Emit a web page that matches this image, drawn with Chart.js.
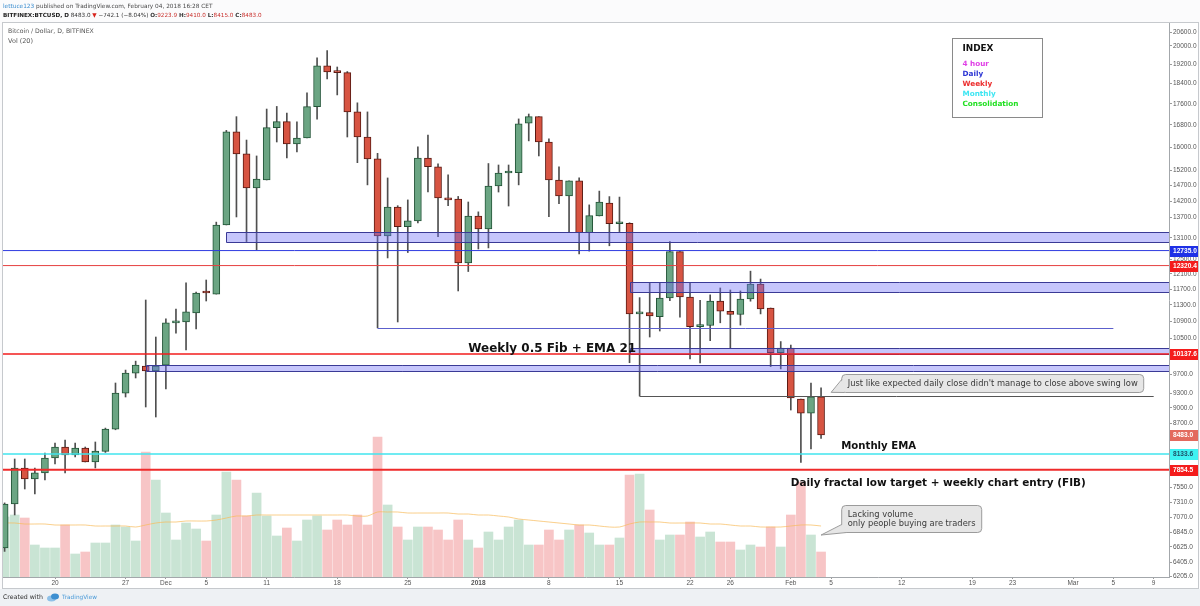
<!DOCTYPE html>
<html>
<head>
<meta charset="utf-8">
<script src="https://cdn.jsdelivr.net/npm/chart.js@4.4.1/dist/chart.umd.min.js"></script>
<style>
  html, body { margin: 0; padding: 0; background: #fff; }
  #wrap { width: 1200px; height: 606px; position: relative; }
  canvas { display: block; }
</style>
</head>
<body>
<div id="wrap"><canvas id="chart" width="1200" height="606" style="width:1200px;height:606px"></canvas></div>
<script>
// BTCUSD daily (Bitfinex)
const dates = [
  '2017-11-15','2017-11-16','2017-11-17','2017-11-18','2017-11-19','2017-11-20','2017-11-21','2017-11-22',
  '2017-11-23','2017-11-24','2017-11-25','2017-11-26','2017-11-27','2017-11-28','2017-11-29','2017-11-30',
  '2017-12-01','2017-12-02','2017-12-03','2017-12-04','2017-12-05','2017-12-06','2017-12-07','2017-12-08',
  '2017-12-09','2017-12-10','2017-12-11','2017-12-12','2017-12-13','2017-12-14','2017-12-15','2017-12-16',
  '2017-12-17','2017-12-18','2017-12-19','2017-12-20','2017-12-21','2017-12-22','2017-12-23','2017-12-24',
  '2017-12-25','2017-12-26','2017-12-27','2017-12-28','2017-12-29','2017-12-30','2017-12-31',
  '2018-01-01','2018-01-02','2018-01-03','2018-01-04','2018-01-05','2018-01-06','2018-01-07','2018-01-08',
  '2018-01-09','2018-01-10','2018-01-11','2018-01-12','2018-01-13','2018-01-14','2018-01-15','2018-01-16',
  '2018-01-17','2018-01-18','2018-01-19','2018-01-20','2018-01-21','2018-01-22','2018-01-23','2018-01-24',
  '2018-01-25','2018-01-26','2018-01-27','2018-01-28','2018-01-29','2018-01-30','2018-01-31',
  '2018-02-01','2018-02-02','2018-02-03','2018-02-04'
];
const openP = [
  6610, 7283, 7885, 7696, 7800, 8061, 8256, 8114, 8240, 7990, 8180, 8590, 9300, 9720, 9870, 9765,
  9893, 10858, 10880, 11100, 11620, 11570, 13475, 16550, 15760, 14620, 14880, 16700, 16925, 16110, 16325, 17490,
  19135, 18885, 18855, 17290, 16360, 15590, 13150, 14020, 13425, 13595, 15620, 15320, 14300, 14270, 12390,
  13745, 13355, 14685, 15110, 15120, 16870, 17110, 16180, 14880, 14370, 14850, 13250, 13745, 14145, 13510, 13520,
  11075, 11105, 11010, 11470, 12705, 11495, 10770, 10795, 11390, 11140, 11060, 11445, 11830, 11220, 10170,
  10273, 9180, 8900, 9223.9
];
const highP = [
  7300, 8043, 8043, 7885, 8150, 8330, 8387, 8330, 8258, 8350, 8610, 9510, 9785, 9980, 11420, 10525,
  10956, 11196, 11858, 11620, 11935, 13560, 16600, 17110, 16250, 15690, 17400, 17500, 17250, 16920, 18030, 19475,
  19790, 19090, 18900, 17640, 17290, 15780, 14947, 14060, 14240, 16010, 16430, 15420, 15050, 14350, 14175,
  13870, 15430, 15380, 15380, 17025, 17210, 17110, 16290, 15315, 14850, 14950, 14085, 14520, 14345, 14330, 13540,
  11480, 11870, 11870, 12990, 12705, 11870, 11410, 11550, 11727, 11675, 11650, 12170, 11960, 11220, 10420,
  10340, 9180, 9510, 9410
];
const lowP = [
  6560, 7109, 7528, 7447, 7679, 7955, 7800, 8079, 7990, 7885, 8160, 8578, 9221, 9616, 9020, 8823,
  9385, 10617, 10228, 10712, 11395, 11570, 13475, 13715, 12990, 12757, 14880, 16180, 15620, 15830, 16325, 17020,
  18595, 17950, 16360, 15460, 14720, 10740, 12530, 10880, 12680, 13535, 14490, 13130, 14060, 11650, 12160,
  12780, 12810, 14490, 14050, 14720, 16220, 15690, 13725, 14120, 13280, 12640, 12720, 13745, 12870, 13280, 9945,
  9240, 10525, 10665, 11405, 10998, 10027, 9940, 10440, 10860, 10280, 10805, 11390, 11075, 9860, 9810,
  8960, 7980, 8223, 8415
];
const closeP = [
  7283, 7885, 7696, 7800, 8061, 8256, 8114, 8240, 7990, 8186, 8590, 9300, 9720, 9893, 9765, 9870,
  10858, 10880, 11123, 11597, 11597, 13475, 16550, 15760, 14620, 14913, 16700, 16925, 16110, 16325, 17490, 19135,
  18885, 18855, 17290, 16360, 15590, 13150, 14020, 13425, 13595, 15620, 15320, 14300, 14240, 12390, 13745,
  13355, 14685, 15110, 15120, 16840, 17110, 16180, 14880, 14370, 14850, 13250, 13755, 14175, 13510, 13520, 11075,
  11105, 11025, 11470, 12705, 11495, 10770, 10785, 11390, 11140, 11060, 11445, 11830, 11200, 10170, 10273,
  9200, 8900, 9225, 8483
];
// volume, thousand BTC (approx.)
const volume = [
  60, 62, 59, 32, 29, 29, 52, 23, 25, 34, 34, 52, 50, 36, 125, 97,
  64, 37, 54, 48, 36, 62, 105, 97, 61, 84, 61, 41, 49, 36, 57, 61,
  47, 57, 52, 62, 52, 140, 72, 50, 37, 50, 50, 47, 37, 57, 37,
  29, 45, 37, 50, 57, 32, 32, 47, 37, 47, 52, 44, 32, 32, 39, 102,
  103, 67, 37, 42, 42, 55, 40, 45, 35, 35, 27, 32, 30, 50, 30,
  62, 95, 42, 25
];
// Vol (20) moving average
const volumeMA = [
  54, 54, 53, 53, 53, 52, 52, 52, 52, 51, 51, 51, 51, 50, 52, 54,
  55, 55, 56, 56, 56, 57, 59, 61, 61, 62, 62, 62, 62, 62, 62, 62,
  62, 62, 62, 61, 61, 65, 65, 65, 64, 64, 64, 64, 64, 63, 63,
  62, 62, 61, 60, 58, 57, 56, 55, 54, 53, 52, 52, 51, 50, 50, 53,
  55, 55, 55, 54, 54, 54, 54, 53, 53, 52, 51, 51, 50, 50, 50,
  51, 52, 52, 51
];

const tickDates = ['2017-11-20','2017-11-27','2017-12-01','2017-12-05','2017-12-11','2017-12-18','2017-12-25',
  '2018-01-01','2018-01-08','2018-01-15','2018-01-22','2018-01-26','2018-02-01','2018-02-05','2018-02-12',
  '2018-02-19','2018-02-23','2018-03-01','2018-03-05','2018-03-09'];
const tickLabels = ['20','27','Dec','5','11','18','25','2018','8','15','22','26','Feb','5','12','19','23','Mar','5','9'];
const priceTicks = [20600, 20000, 19200, 18400, 17600, 16800, 16000, 15200, 14700, 14200, 13700, 13100, 12500,
  12100, 11700, 11300, 10900, 10500, 10100, 9700, 9300, 9000, 8700, 8400, 8100, 7800, 7550, 7310, 7070,
  6845, 6625, 6405, 6205];

// drawings
const levelPrices = [12735.0, 12320.4, 10137.6, 8133.6, 7854.5];
const lastPrice = 8483.0;
const zoneFrom = ['2017-12-07', '2018-01-16', '2018-01-16', '2017-11-29'];
const zoneHigh = [13268, 11883, 10274, 9885];
const zoneLow = [12978, 11623, 10149, 9765];
const rayPrice = [10740, 9240];
const rayFrom = ['2017-12-22', '2018-01-17'];
const rayTo = ['2018-03-05', '2018-03-09'];
const noteText = ['Weekly 0.5 Fib + EMA 21', 'Monthly EMA', 'Daily fractal low target + weekly chart entry (FIB)'];
const noteAt = [['2017-12-31', 10250], ['2018-02-06', 8276], ['2018-02-01', 7628]];
const calloutText = [["Just like expected daily close didn't manage to close above swing low"],
  ['Lacking volume', 'only people buying are traders']];
const calloutAt = [['2018-02-06', 9701], ['2018-02-06', 7266]];
const calloutTip = [['2018-02-05', 9316], ['2018-02-04', 6801]];
const indexItems = ['4 hour', 'Daily', 'Weekly', 'Monthly', 'Consolidation'];
const indexAt = ['2018-02-17', 20351];

// ---- styles ----
const UP = '#6ba583', DOWN = '#d75442', UP_B = '#225437', DOWN_B = '#5b1a13', WICK = '#4f4f4f';
const VOL_UP = '#c9e4d4', VOL_DOWN = '#f7c5c6';
const levelColors = ['#2e3be0', '#e64040', '#f21c1c', '#40e4ee', '#ef2a2a'];
const levelWidths = [1, 1, 1.5, 1.5, 2];
const labelBg = ['#1f30e6', '#f41c1c', '#f41c1c', '#3ff2f2', '#f41c1c'];
const labelFg = ['#fff', '#fff', '#fff', '#1d4f66', '#fff'];
const noteWidth = [168, 75, 295];
const indexColors = ['#e040e6', '#2c36d4', '#ec2d2d', '#3ee6f2', '#22e022'];
const FAM = '"DejaVu Sans", Verdana, sans-serif';
const AX = '"Liberation Sans", Arial, sans-serif';

const base = Date.UTC(2017, 10, 20);
const dayOf = s => (Date.parse(s + 'T00:00:00Z') - base) / 864e5;
const isUp = i => closeP[i] >= openP[i];

function fitFont(ctx, text, weight, family, width) {
  ctx.font = weight + ' 20px ' + family;
  const size = 20 * width / ctx.measureText(text).width;
  return weight + ' ' + size.toFixed(2) + 'px ' + family;
}

function drawRuns(ctx, runs, x, y, family, width) {
  let w = 0;
  runs.forEach(r => { ctx.font = (r.b ? 'bold ' : '') + '20px ' + family; w += ctx.measureText(r.t).width; });
  const size = 20 * width / w;
  runs.forEach(r => {
    ctx.font = (r.b ? 'bold ' : '') + size.toFixed(2) + 'px ' + family;
    ctx.fillStyle = r.c;
    ctx.fillText(r.t, x, y);
    x += ctx.measureText(r.t).width;
  });
}

// page chrome: background, header, panel frame
const chrome = {
  id: 'chrome',
  beforeDraw(chart) {
    const ctx = chart.ctx;
    ctx.save();
    ctx.fillStyle = '#fbfbfc';
    ctx.fillRect(0, 0, 1200, 606);
    ctx.fillStyle = '#eef1f4';
    ctx.fillRect(0, 589, 1200, 17);
    ctx.fillStyle = '#ffffff';
    ctx.fillRect(2, 22, 1196, 567);
    ctx.strokeStyle = '#c6c9cd';
    ctx.lineWidth = 1;
    ctx.strokeRect(2.5, 22.5, 1196, 566);
    ctx.textBaseline = 'middle';
    drawRuns(ctx, [
      {t: 'lettuce123', c: '#3d8fd0'},
      {t: ' published on TradingView.com, February 04, 2018 16:28 CET', c: '#4a4a4a'}
    ], 3, 6, FAM, 210);
    drawRuns(ctx, [
      {t: 'BITFINEX:BTCUSD, D', c: '#222', b: true}, {t: ' 8483.0 ', c: '#333'}, {t: '\u25BC', c: '#d8231c'},
      {t: ' \u2212742.1 (\u22128.04%) ', c: '#333'}, {t: 'O:', c: '#333', b: true}, {t: '9223.9', c: '#c9302c'},
      {t: ' H:', c: '#333', b: true}, {t: '9410.0', c: '#c9302c'}, {t: ' L:', c: '#333', b: true},
      {t: '8415.0', c: '#c9302c'}, {t: ' C:', c: '#333', b: true}, {t: '8483.0', c: '#c9302c'}
    ], 3, 15.5, FAM, 259);
    drawRuns(ctx, [{t: 'Bitcoin / Dollar, D, BITFINEX', c: '#555'}], 8, 31, FAM, 86);
    drawRuns(ctx, [{t: 'Vol (20)', c: '#555'}], 8, 41, FAM, 25);
    ctx.restore();
  }
};

function roundBox(ctx, x1, y1, x2, y2, r) {
  ctx.beginPath();
  ctx.moveTo(x1 + r, y1);
  ctx.lineTo(x2 - r, y1); ctx.arcTo(x2, y1, x2, y1 + r, r);
  ctx.lineTo(x2, y2 - r); ctx.arcTo(x2, y2, x2 - r, y2, r);
  ctx.lineTo(x1 + r, y2); ctx.arcTo(x1, y2, x1, y2 - r, r);
  ctx.lineTo(x1, y1 + r); ctx.arcTo(x1, y1, x1 + r, y1, r);
  ctx.closePath();
}

// user drawings: zones, levels, rays, notes, callouts, index box
const drawings = {
  id: 'drawings',
  afterDatasetsDraw(chart) {
    const {ctx, chartArea: a, scales: {x, y}} = chart;
    const X = s => x.getPixelForValue(dayOf(s));
    const Y = v => y.getPixelForValue(v);
    ctx.save();
    ctx.beginPath(); ctx.rect(a.left, a.top, a.right - a.left, a.bottom - a.top); ctx.clip();

    zoneLow.forEach((lo, i) => {
      const x1 = Math.round(X(zoneFrom[i])) + 0.5, x2 = a.right;
      const y1 = Math.round(Y(zoneHigh[i])) + 0.5, y2 = Math.round(Y(lo)) + 0.5;
      ctx.fillStyle = 'rgba(112,112,248,0.4)';
      ctx.fillRect(x1, y1, x2 - x1, y2 - y1);
      ctx.strokeStyle = '#3a3a96'; ctx.lineWidth = 1;
      ctx.beginPath(); ctx.moveTo(x2, y1); ctx.lineTo(x1, y1); ctx.lineTo(x1, y2); ctx.lineTo(x2, y2); ctx.stroke();
    });

    rayPrice.forEach((p, i) => {
      const yy = Math.round(Y(p)) + 0.5;
      ctx.strokeStyle = i === 0 ? '#5c60cc' : '#555';
      ctx.lineWidth = 1;
      ctx.beginPath(); ctx.moveTo(X(rayFrom[i]), yy); ctx.lineTo(X(rayTo[i]), yy); ctx.stroke();
    });

    levelPrices.forEach((p, i) => {
      const yy = Y(p);
      ctx.strokeStyle = levelColors[i]; ctx.lineWidth = levelWidths[i];
      ctx.beginPath(); ctx.moveTo(a.left, yy); ctx.lineTo(a.right, yy); ctx.stroke();
    });

    ctx.textBaseline = 'middle';
    ctx.fillStyle = '#111';
    noteText.forEach((t, i) => {
      ctx.font = fitFont(ctx, t, 'bold', FAM, noteWidth[i]);
      ctx.fillText(t, X(noteAt[i][0]), Y(noteAt[i][1]));
    });

    // callouts
    const calloutWidths = [290, 128];
    const calloutH = [18, 27];
    calloutText.forEach((lines, i) => {
      const longest = lines.reduce((m, s) => s.length > m.length ? s : m, '');
      const font = fitFont(ctx, longest, 'normal', FAM, calloutWidths[i]);
      const bx = X(calloutAt[i][0]) + 0.5, by = Math.round(Y(calloutAt[i][1])) + 0.5;
      const bw = calloutWidths[i] + 12, bh = calloutH[i];
      const tx = X(calloutTip[i][0]), ty = Y(calloutTip[i][1]);
      ctx.fillStyle = '#e6e6e6'; ctx.strokeStyle = '#9b9b9b'; ctx.lineWidth = 1;
      roundBox(ctx, bx, by, bx + bw, by + bh, 4);
      ctx.fill(); ctx.stroke();
      // tail
      ctx.beginPath();
      ctx.moveTo(bx + 1, by + bh - (i === 0 ? 13 : 8));
      ctx.lineTo(tx, ty);
      ctx.lineTo(bx + (i === 0 ? 3 : 5), by + bh);
      ctx.closePath();
      ctx.fill();
      ctx.beginPath();
      ctx.moveTo(bx, by + bh - (i === 0 ? 13 : 8));
      ctx.lineTo(tx, ty);
      ctx.lineTo(bx + (i === 0 ? 3 : 5), by + bh);
      ctx.stroke();
      ctx.fillStyle = '#3a3a3a'; ctx.font = font;
      const lh = 9;
      lines.forEach((s, k) => {
        ctx.fillText(s, bx + 6, by + bh / 2 + (k - (lines.length - 1) / 2) * lh);
      });
    });

    // index box
    const ix = Math.round(X(indexAt[0])) + 0.5, iy = Math.round(Y(indexAt[1])) + 0.5;
    ctx.fillStyle = '#fff'; ctx.strokeStyle = '#8a8a8a'; ctx.lineWidth = 1;
    ctx.fillRect(ix, iy, 90, 79); ctx.strokeRect(ix, iy, 90, 79);
    ctx.fillStyle = '#111';
    ctx.font = fitFont(ctx, 'INDEX', 'bold', FAM, 31);
    ctx.fillText('INDEX', ix + 10, iy + 10.5);
    const f = fitFont(ctx, 'Consolidation', 'bold', FAM, 56);
    const rows = [25.5, 35.5, 45.5, 55.5, 66];
    indexItems.forEach((t, k) => {
      ctx.font = f; ctx.fillStyle = indexColors[k];
      ctx.fillText(t, ix + 10, iy + rows[k]);
    });
    ctx.restore();
  }
};

// price-axis labels and footer
const overlays = {
  id: 'overlays',
  afterDraw(chart) {
    const {ctx, chartArea: a, scales: {y}} = chart;
    ctx.save();
    ctx.textBaseline = 'middle';
    const lbl = (v, bg, fg) => {
      const yy = Math.round(y.getPixelForValue(v));
      ctx.fillStyle = bg;
      ctx.fillRect(a.right + 1, yy - 5, 28, 11);
      ctx.fillStyle = fg;
      ctx.font = 'bold 6.6px ' + AX;
      ctx.fillText(v.toFixed(1), a.right + 4, yy + 0.5);
    };
    levelPrices.forEach((p, i) => lbl(p, labelBg[i], labelFg[i]));
    lbl(lastPrice, '#e36a5e', '#fff');

    // footer
    drawRuns(ctx, [{t: 'Created with', c: '#333'}], 3, 597, FAM, 40);
    ctx.fillStyle = '#8fc1e8';
    ctx.beginPath(); ctx.ellipse(51.5, 598.5, 4.5, 3, 0, 0, Math.PI * 2); ctx.fill();
    ctx.fillStyle = '#3d8fd0';
    ctx.beginPath(); ctx.ellipse(55, 596.5, 4, 3, 0, 0, Math.PI * 2); ctx.fill();
    drawRuns(ctx, [{t: 'TradingView', c: '#4a9ad8'}], 62, 597, FAM, 35);
    ctx.restore();
  }
};

const pts = arr => dates.map((s, i) => ({x: dayOf(s), y: arr(i)}));

new Chart(document.getElementById('chart'), {
  type: 'bar',
  data: {
    datasets: [
      {
        label: 'Body',
        data: pts(i => [Math.min(openP[i], closeP[i]), Math.max(openP[i], closeP[i])]),
        backgroundColor: c => isUp(c.dataIndex) ? UP : DOWN,
        borderColor: c => isUp(c.dataIndex) ? UP_B : DOWN_B,
        borderWidth: 1, borderSkipped: false, barThickness: 7, minBarLength: 2,
        grouped: false, yAxisID: 'y', order: 0
      },
      {
        label: 'Wick',
        data: pts(i => [lowP[i], highP[i]]),
        backgroundColor: WICK, barThickness: 1, grouped: false, yAxisID: 'y', order: 1
      },
      {
        type: 'line', label: 'Vol MA',
        data: pts(i => volumeMA[i]),
        borderColor: 'rgba(248,186,90,0.7)', borderWidth: 1, pointRadius: 0, tension: 0.3,
        yAxisID: 'yv', order: 2
      },
      {
        label: 'Volume',
        data: pts(i => volume[i]),
        backgroundColor: c => isUp(c.dataIndex) ? VOL_UP : VOL_DOWN,
        barThickness: 9, grouped: false, yAxisID: 'yv', order: 3
      }
    ]
  },
  options: {
    responsive: false,
    animation: false,
    devicePixelRatio: 1,
    events: [],
    layout: {padding: {left: 3, top: 23, right: 0, bottom: 18}},
    plugins: {legend: {display: false}, tooltip: {enabled: false}},
    scales: {
      x: {
        type: 'linear', min: -5.16, max: 110.52, offset: false,
        afterFit: s => { s.height = 11; },
        afterBuildTicks: s => { s.ticks = tickDates.map(d => ({value: dayOf(d)})); },
        ticks: {
          autoSkip: false, maxRotation: 0, padding: 0, color: '#555',
          font: c => ({family: AX, size: 6.5, weight: c.index === 7 ? 'bold' : 'normal'}),
          callback: (v, i) => tickLabels[i]
        },
        grid: {drawOnChartArea: false, offset: false, tickLength: 2, color: '#9a9a9a'},
        border: {color: '#a3a7ab'}
      },
      y: {
        type: 'logarithmic', position: 'right', min: 6200, max: 21035, beginAtZero: false,
        afterFit: s => { s.width = 31; },
        afterBuildTicks: s => { s.ticks = priceTicks.map(v => ({value: v})); },
        ticks: {
          autoSkip: false, padding: 1, color: '#555', font: {family: AX, size: 6.5},
          callback: v => Number(v).toFixed(1)
        },
        grid: {drawOnChartArea: false, tickLength: 3, color: '#9a9a9a'},
        border: {color: '#a3a7ab'}
      },
      yv: {type: 'linear', display: false, min: 0, max: 554}
    }
  },
  plugins: [chrome, drawings, overlays]
});
</script>
</body>
</html>
